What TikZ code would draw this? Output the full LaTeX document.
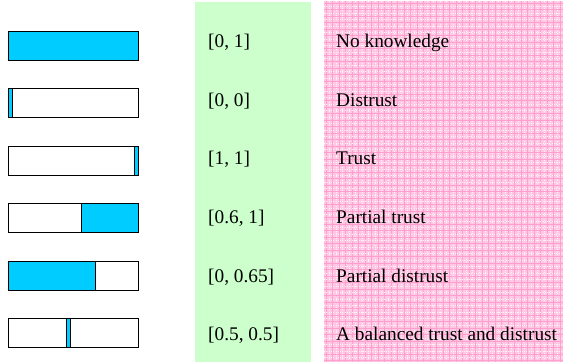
\documentclass[tikz,border=0pt]{standalone}
\usepackage{fontspec}
\setmainfont{Liberation Serif}
\definecolor{barfill}{HTML}{00CCFF}
\definecolor{greenpanel}{HTML}{CCFFCC}
\definecolor{pinkbase}{HTML}{FFC8E4}
\definecolor{pinkline}{HTML}{FF9FCE}
\tikzset{
  barbox/.style={draw=black, line width=0.9pt, fill=white},
  barpart/.style={fill=barfill},
  barframe/.style={draw=black, line width=0.9pt},
  label/.style={anchor=base west, inner sep=0pt, font=\fontsize{19.3}{23}\selectfont, text=black},
}
\begin{document}
\begin{tikzpicture}[x=1pt, y=-1pt]
\useasboundingbox (0,0) rectangle (563,362);
\fill[white] (0,0) rectangle (563,362);
% panels
\fill[greenpanel] (195,2) rectangle (311,362);
\fill[pinkbase] (324,1) rectangle (563,362);
\begin{scope}
\clip (324,1) rectangle (563,362);
\foreach \i in {0,...,37} {
  \draw[pinkline, line width=0.7pt] ({326+\i*6.5},1) -- ({326+\i*6.5},362);
  \draw[white!75!pinkbase, line width=0.3pt, dotted] ({329.25+\i*6.5},1) -- ({329.25+\i*6.5},362);
}
\foreach \j in {0,...,56} {
  \draw[pinkline, line width=0.7pt] (324,{3+\j*6.5}) -- (563,{3+\j*6.5});
  \draw[white!75!pinkbase, line width=0.3pt, dotted] (324,{6.25+\j*6.5}) -- (563,{6.25+\j*6.5});
}
\end{scope}
% bars
\draw[barbox] (8,31) rectangle (138,60);
\fill[barpart] (8,31) rectangle (138,60);
\draw[barbox] (8,88.5) rectangle (138,117.5);
\fill[barpart] (8,88.5) rectangle (12,117.5);
\draw[black, line width=0.6pt] (12,88.5) -- (12,117.5);
\draw[barbox] (8,146) rectangle (138,175);
\fill[barpart] (134.3,146) rectangle (138,175);
\draw[black, line width=0.6pt] (134.3,146) -- (134.3,175);
\draw[barbox] (8,203.5) rectangle (138,232.5);
\fill[barpart] (81,203.5) rectangle (138,232.5);
\draw[black, line width=0.6pt] (81,203.5) -- (81,232.5);
\draw[barbox] (8,261) rectangle (138,290);
\fill[barpart] (8,261) rectangle (95.3,290);
\draw[black, line width=0.6pt] (95.3,261) -- (95.3,290);
\draw[barbox] (8,318) rectangle (138,347);
\fill[barpart] (66.3,318) rectangle (70,347);
\draw[black, line width=0.6pt] (66.3,318) -- (66.3,347) (70,318) -- (70,347);
\draw[barframe] (8,31) rectangle (138,60);
\draw[barframe] (8,88.5) rectangle (138,117.5);
\draw[barframe] (8,146) rectangle (138,175);
\draw[barframe] (8,203.5) rectangle (138,232.5);
\draw[barframe] (8,261) rectangle (138,290);
\draw[barframe] (8,318) rectangle (138,347);
% interval labels
\node[label] (i1) at (208,47.7) {[0, 1]};
\node[label] (i2) at (208,106.3) {[0, 0]};
\node[label] (i3) at (208,164.9) {[1, 1]};
\node[label] (i4) at (208,223.5) {[0.6, 1]};
\node[label] (i5) at (208,282.1) {[0, 0.65]};
\node[label] (i6) at (208,340.7) {[0.5, 0.5]};
% meaning labels
\node[label] (m1) at (336,47.7) {No knowledge};
\node[label] (m2) at (336,106.3) {Distrust};
\node[label] (m3) at (336,164.9) {Trust};
\node[label] (m4) at (336,223.5) {Partial trust};
\node[label] (m5) at (336,282.1) {Partial distrust};
\node[label] (m6) at (336,340.7) {A balanced trust and distrust};
\end{tikzpicture}
\end{document}
